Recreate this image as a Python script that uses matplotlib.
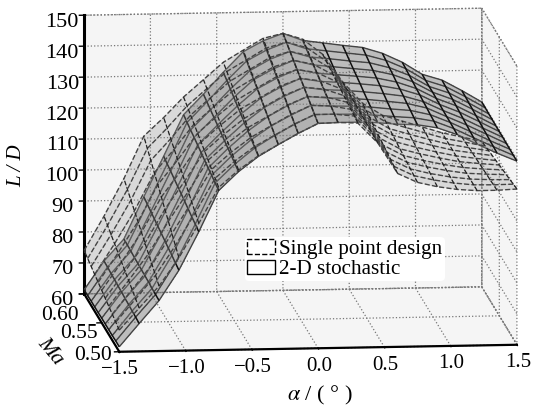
import numpy as np
import matplotlib
matplotlib.use("Agg")
import matplotlib.pyplot as plt
from matplotlib.patches import Patch

plt.rcParams['font.family'] = ['Liberation Serif', 'DejaVu Serif']
plt.rcParams['mathtext.fontset'] = 'stix'

alpha = [-1.5,-1.35,-1.2,-1.05,-0.9,-0.75,-0.6,-0.45,-0.3,-0.15,0,0.15,0.3,0.45,0.6,0.75,0.9,1.05,1.2,1.35,1.5]
ma = [0.50,0.51,0.52,0.53,0.54,0.55,0.56,0.57,0.58,0.59,0.60]

# L/D, one line per alpha, Ma going 0.50 -> 0.60
stoch = [
 [61.6,61.6,61.5,61.5,61.5,61.5,61.4,61.4,61.4,61.3,61.3],
 [69,69.2,69.3,69.5,69.6,69.8,69.9,70.1,70.2,70.4,70.5],
 [76.3,76.4,76.5,76.7,76.8,76.9,77,77.1,77.3,77.4,77.5],
 [86,86.5,87,87.5,88,88.5,89,89.5,90,90.5,91],
 [98.3,98.9,99.4,100,100.6,101.2,101.7,102.3,102.9,103.4,104],
 [111.5,112.1,112.7,113.2,113.8,114.4,115,115.6,116.1,116.7,117.3],
 [117.5,118.1,118.8,119.4,120,120.7,121.3,121.9,122.5,123.2,123.8],
 [122.3,123.2,124,124.9,125.7,126.6,127.4,128.3,129.1,130,130.8],
 [126,127.1,128.3,129.4,130.5,131.7,132.8,133.9,135,136.2,137.3],
 [129.5,130.6,131.7,132.9,134,135.1,136.2,137.3,138.5,139.6,140.7],
 [132.6,133.6,134.7,135.7,136.8,137.8,138.8,139.9,140.9,142,143],
 [132.8,133.6,134.4,135.1,135.9,136.7,137.5,138.3,139,139.8,140.6],
 [132.8,133.5,134.2,134.9,135.6,136.3,136.9,137.6,138.3,139,139.7],
 [132.5,133.1,133.8,134.4,135,135.7,136.3,136.9,137.5,138.2,138.8],
 [131.9,132.5,133.1,133.7,134.3,135,135.6,136.2,136.8,137.4,138],
 [131.6,132,132.5,132.9,133.4,133.8,134.2,134.7,135.1,135.6,136],
 [130.5,130.8,131,131.3,131.5,131.8,132,132.3,132.5,132.8,133],
 [128.2,128.3,128.4,128.4,128.5,128.6,128.7,128.8,128.8,128.9,129],
 [125,125.2,125.4,125.6,125.8,126,126.2,126.4,126.6,126.8,127],
 [122,122.2,122.3,122.5,122.6,122.8,122.9,123.1,123.2,123.4,123.5],
 [119.3,119.3,119.4,119.4,119.5,119.5,119.5,119.6,119.6,119.7,119.7],
]
single = [
 [67,67.7,68.4,69.1,69.8,70.5,71.2,71.9,72.6,73.3,74],
 [74,75.1,76.2,77.3,78.4,79.5,80.6,81.7,82.8,83.9,85],
 [81,82.6,84.2,85.8,87.4,89,90.6,92.2,93.8,95.4,97],
 [90,92.1,94.1,96.2,98.2,100.3,102.4,104.4,106.5,108.5,110.6],
 [101,102.6,104.1,105.7,107.2,108.8,110.3,111.9,113.4,115,116.5],
 [112.5,113.6,114.6,115.7,116.7,117.8,118.8,119.9,120.9,122,123],
 [118,119.1,120.1,121.2,122.2,123.3,124.3,125.4,126.4,127.5,128.5],
 [122.5,123.7,124.8,126,127.1,128.3,129.4,130.6,131.7,132.9,134],
 [126,127.2,128.4,129.5,130.7,131.9,133.1,134.3,135.4,136.6,137.8],
 [129.5,130.7,131.9,133.1,134.3,135.5,136.7,137.9,139.1,140.3,141.5],
 [132.6,133.6,134.7,135.7,136.8,137.8,138.8,139.9,140.9,142,143],
 [132.8,133.6,134.4,135.3,136.1,136.9,137.7,138.5,139.4,140.2,141],
 [132.5,132.9,133.2,133.6,133.9,134.3,134.6,135,135.3,135.7,136],
 [126,126.1,126.2,126.3,126.4,126.5,126.6,126.7,126.8,126.9,127],
 [116,116.4,116.8,117.2,117.6,118,118.4,118.8,119.2,119.6,120],
 [113,113.3,113.6,113.9,114.2,114.5,114.8,115.1,115.4,115.7,116],
 [111.5,111.8,112,112.3,112.5,112.8,113,113.3,113.5,113.8,114],
 [110.5,110.7,110.8,111,111.1,111.3,111.4,111.6,111.7,111.9,112],
 [110,110,110,110,110,110,110,110,110,110,110],
 [110,109.9,109.7,109.6,109.4,109.3,109.1,109,108.8,108.7,108.5],
 [110.3,110,109.6,109.3,109,108.7,108.3,108,107.7,107.3,107],
]

fig = plt.figure(figsize=(5.36,4.07), dpi=100)
ax = fig.add_axes([29.9/536,-43.6/407,527/536,527/407], projection='3d', proj_type='ortho')
ax.view_init(elev=9.8, azim=-95.9)
ax.set_box_aspect((400,342,283), zoom=1.1)
ax.set_xlim(-1.5,1.5,view_margin=0)
ax.set_ylim(0.5,0.6,view_margin=0)
ax.set_zlim(60,150,view_margin=0)

A, M = np.meshgrid(alpha, ma)
S = np.array(stoch).T
D = np.array(single).T

# grey tone under the wires, the print of the original is nearly solid there
ax.plot_surface(A, M, D, rstride=1, cstride=1, color='#9a9a9a', alpha=0.3, shade=False, linewidth=0, antialiased=False)
ax.plot_surface(A, M, S, rstride=1, cstride=1, color='#707070', alpha=0.42, shade=False, linewidth=0, antialiased=False)

ax.plot_wireframe(A, M, D, rstride=1, cstride=0, color='#444444', lw=1.0, linestyle='--')
ax.plot_wireframe(A, M, D, rstride=0, cstride=1, color='#222222', lw=0.9, linestyle='--')
ax.plot_wireframe(A, M, S, rstride=1, cstride=0, color='#444444', lw=1.0)
ax.plot_wireframe(A, M, S, rstride=0, cstride=1, color='#111111', lw=1.1)

ax.set_xticks([-1.5,-1,-0.5,0,0.5,1,1.5])
ax.set_xticklabels(['\u22121.5','\u22121.0','\u22120.5','0.0','0.5','1.0','1.5'])
ax.set_yticks([0.5,0.55,0.6])
ax.set_yticklabels(['','',''])
ax.set_zticks(range(60,151,10))
ax.tick_params(axis='x', labelsize=15, pad=-3)
ax.tick_params(axis='z', labelsize=16, pad=2)
for t in ax.zaxis.get_ticklabels():
    t.set_va('top')
for a in (ax.xaxis, ax.yaxis, ax.zaxis):
    a.set_pane_color((0.96,0.96,0.96,1))
    a.pane.set_edgecolor('#777777')
    a.pane.set_linestyle(':')
    a._axinfo['grid'].update(color='#777777', linewidth=0.9, linestyle=':')
    a._axinfo['tick'].update(inward_factor=0.15, outward_factor=0, linewidth={True:1, False:1})
    a.line.set_linewidth(1.6)
    a.line.set_color('k')
ax.zaxis.line.set_linewidth(2.2)

# the Ma tick labels do not sit on their ticks in the original
for lab, x, y in [('0.60',60,316),('0.55',79,334),('0.50',93,356)]:
    fig.text(x/536, 1-y/407, lab, fontsize=15.5, ha='center', va='center')
fig.text(320/536, 1-395/407, r'$\alpha$ / ( ° )', fontsize=16, ha='center', va='center')
fig.text(50/536, 1-351/407, 'Ma', fontsize=16, style='italic', rotation=-50, ha='center', va='center')
fig.text(17/536, 1-166/407, 'L / D', fontsize=15, style='italic', rotation=90, ha='center', va='center')

ax.legend(handles=[Patch(fc='none', ec='k', ls='--', label='Single point design'),
                   Patch(fc='none', ec='k', label='2-D stochastic')],
          loc='upper left', bbox_to_anchor=(0.408,0.406), frameon=True, edgecolor='none', framealpha=1,
          fontsize=15.2, borderpad=0.1, labelspacing=0.05, borderaxespad=0, handlelength=1.33, handletextpad=0.2)

fig.savefig('out.png', dpi=100)
